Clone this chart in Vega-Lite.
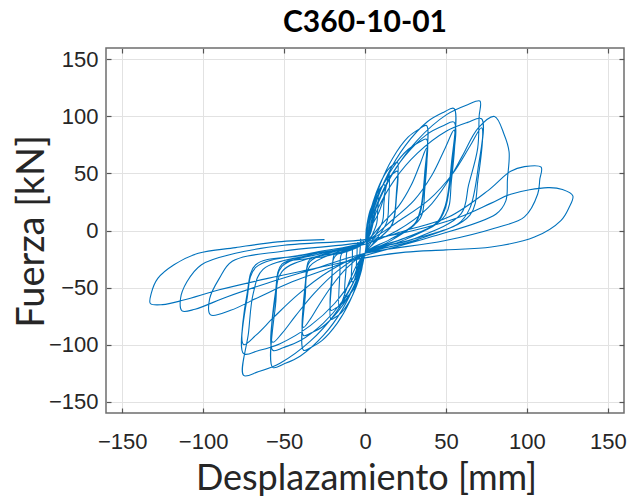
{
"$schema": "https://vega.github.io/schema/vega-lite/v6.json",
"autosize": {"type": "none"},
"width": 518, "height": 365,
"padding": {"left": 106, "top": 48, "right": 10, "bottom": 84},
"background": "white",
"title": {"text": "C360-10-01", "font": "Lato", "fontSize": 30, "fontWeight": "bold", "color": "#000000", "offset": 9, "anchor": "middle"},
"config": {"view": {"stroke": "#6e6e6e", "strokeWidth": 1.5}},
"data": {"values": [
{"x":-1.4,"y":-8.8},{"x":0,"y":-10},{"x":0.8,"y":1},{"x":2.1,"y":9.8},{"x":3,"y":12},{"x":2.9,"y":6.6},{"x":2.7,"y":2.4},{"x":1.2,"y":-8},{"x":0,"y":-20},{"x":-0.8,"y":-22.5},{"x":-2.1,"y":-24.5},{"x":-3,"y":-25},{"x":-2.9,"y":-13.8},{"x":-2.7,"y":-7.5},
{"x":-2.3,"y":-10.3},{"x":0,"y":-10},{"x":1.3,"y":6},{"x":3.5,"y":18.8},{"x":5,"y":22},{"x":4.9,"y":12.1},{"x":4.5,"y":4.4},{"x":2,"y":-8},{"x":0,"y":-20},{"x":-1.3,"y":-27.5},{"x":-3.5,"y":-33.5},{"x":-5,"y":-35},{"x":-4.9,"y":-19.3},{"x":-4.5,"y":-10.5},
{"x":-3.6,"y":-11.8},{"x":0,"y":-10},{"x":2,"y":10},{"x":5.6,"y":26},{"x":8,"y":30},{"x":7.8,"y":16.5},{"x":7.2,"y":6},{"x":3.2,"y":-8},{"x":0,"y":-20},{"x":-2,"y":-32.5},{"x":-5.6,"y":-42.5},{"x":-8,"y":-45},{"x":-7.8,"y":-24.8},{"x":-7.2,"y":-13.5},
{"x":-5.4,"y":-13.7},{"x":0,"y":-10},{"x":3,"y":15},{"x":8.4,"y":35},{"x":12,"y":40},{"x":11.6,"y":22},{"x":10.8,"y":8},{"x":4.8,"y":-8},{"x":0,"y":-20},{"x":-3,"y":-39},{"x":-8.4,"y":-54.2},{"x":-12,"y":-58},{"x":-11.6,"y":-31.9},{"x":-10.8,"y":-17.4},
{"x":-7.2,"y":-15.2},{"x":0,"y":-10},{"x":4.5,"y":5},{"x":8.3,"y":15},{"x":11.3,"y":27.5},{"x":13.5,"y":41},{"x":15,"y":50},{"x":14.6,"y":25},{"x":13.5,"y":7.5},{"x":6.8,"y":-8},{"x":0,"y":-20},{"x":-4.8,"y":-29.6},{"x":-8.8,"y":-41.6},{"x":-12,"y":-53.6},{"x":-14.4,"y":-63.2},{"x":-16,"y":-68},{"x":-15.5,"y":-37.4},{"x":-14.4,"y":-20.4},
{"x":-9.5,"y":-16.7},{"x":0,"y":-10},{"x":2,"y":7.5},{"x":5,"y":25},{"x":9,"y":40.4},{"x":14,"y":53},{"x":17.6,"y":57.9},{"x":20,"y":60},{"x":19.4,"y":33},{"x":18,"y":12},{"x":16,"y":3.6},{"x":8,"y":-8},{"x":0,"y":-20},{"x":-2.1,"y":-34.5},{"x":-5.3,"y":-49},{"x":-9.5,"y":-61.8},{"x":-14.7,"y":-72.2},{"x":-18.5,"y":-76.3},{"x":-21,"y":-78},{"x":-20.4,"y":-42.9},{"x":-18.9,"y":-23.4},
{"x":-9.5,"y":-15.5},{"x":0,"y":-10},{"x":2,"y":5.5},{"x":5,"y":21},{"x":9,"y":34.6},{"x":14,"y":45.8},{"x":17.6,"y":50.1},{"x":20,"y":52},{"x":19.4,"y":28.6},{"x":18,"y":10.4},{"x":16,"y":3.1},{"x":8,"y":-8},{"x":0,"y":-20},{"x":-2.1,"y":-32.5},{"x":-5.3,"y":-45},{"x":-9.5,"y":-56},{"x":-14.7,"y":-65},{"x":-18.5,"y":-68.5},{"x":-21,"y":-70},{"x":-20.4,"y":-38.5},{"x":-18.9,"y":-21},
{"x":-17.1,"y":-20.8},{"x":0,"y":-10},{"x":3.8,"y":15.5},{"x":9.5,"y":41},{"x":17.1,"y":63.4},{"x":26.6,"y":81.8},{"x":33.4,"y":88.9},{"x":38,"y":92},{"x":36.9,"y":50.6},{"x":34.2,"y":18.4},{"x":30.4,"y":5.5},{"x":15.2,"y":-8},{"x":0,"y":-20},{"x":-3.8,"y":-41.3},{"x":-9.5,"y":-62.5},{"x":-17.1,"y":-81.2},{"x":-26.6,"y":-96.5},{"x":-33.4,"y":-102.5},{"x":-38,"y":-105},{"x":-36.9,"y":-57.8},{"x":-34.2,"y":-31.5},
{"x":-17.1,"y":-18.8},{"x":0,"y":-10},{"x":3.8,"y":12.5},{"x":9.5,"y":35},{"x":17.1,"y":54.8},{"x":26.6,"y":71},{"x":33.4,"y":77.3},{"x":38,"y":80},{"x":36.9,"y":44},{"x":34.2,"y":16},{"x":30.4,"y":4.8},{"x":15.2,"y":-8},{"x":0,"y":-20},{"x":-3.8,"y":-38},{"x":-9.5,"y":-56},{"x":-17.1,"y":-71.8},{"x":-26.6,"y":-84.8},{"x":-33.4,"y":-89.8},{"x":-38,"y":-92},{"x":-36.9,"y":-50.6},{"x":-34.2,"y":-27.6},
{"x":-17.1,"y":-17.8},{"x":0,"y":-10},{"x":11.4,"y":7.2},{"x":20.9,"y":21.6},{"x":28.5,"y":39.6},{"x":34.2,"y":59},{"x":38,"y":72},{"x":36.9,"y":36},{"x":34.2,"y":10.8},{"x":17.1,"y":-8},{"x":0,"y":-20},{"x":-11.4,"y":-33},{"x":-20.9,"y":-49.3},{"x":-28.5,"y":-65.5},{"x":-34.2,"y":-78.5},{"x":-38,"y":-85},{"x":-36.9,"y":-46.8},{"x":-34.2,"y":-25.5},
{"x":-25.7,"y":-23},{"x":0,"y":-10},{"x":5.5,"y":19.3},{"x":13.8,"y":48.5},{"x":24.8,"y":74.2},{"x":38.5,"y":95.3},{"x":48.4,"y":103.5},{"x":55,"y":107},{"x":53.4,"y":58.9},{"x":49.5,"y":21.4},{"x":44,"y":6.4},{"x":22,"y":-8},{"x":0,"y":-20},{"x":-5.7,"y":-45},{"x":-14.3,"y":-70},{"x":-25.7,"y":-92},{"x":-39.9,"y":-110},{"x":-50.2,"y":-117},{"x":-57,"y":-120},{"x":-55.3,"y":-66},{"x":-51.3,"y":-36},
{"x":-25.7,"y":-20.8},{"x":0,"y":-10},{"x":5.5,"y":16.3},{"x":13.8,"y":42.5},{"x":24.8,"y":65.6},{"x":38.5,"y":84.5},{"x":48.4,"y":91.9},{"x":55,"y":95},{"x":53.4,"y":52.3},{"x":49.5,"y":19},{"x":44,"y":5.7},{"x":22,"y":-8},{"x":0,"y":-20},{"x":-5.7,"y":-41.3},{"x":-14.3,"y":-62.5},{"x":-25.7,"y":-81.2},{"x":-39.9,"y":-96.5},{"x":-50.2,"y":-102.5},{"x":-57,"y":-105},{"x":-55.3,"y":-57.8},{"x":-51.3,"y":-31.5},
{"x":-25.7,"y":-19.7},{"x":0,"y":-10},{"x":16.5,"y":8.8},{"x":30.3,"y":26.4},{"x":41.3,"y":48.4},{"x":49.5,"y":72.2},{"x":55,"y":88},{"x":53.4,"y":44},{"x":49.5,"y":13.2},{"x":24.8,"y":-8},{"x":0,"y":-20},{"x":-17.1,"y":-35.6},{"x":-31.4,"y":-55.1},{"x":-42.8,"y":-74.6},{"x":-51.3,"y":-90.2},{"x":-57,"y":-98},{"x":-55.3,"y":-53.9},{"x":-51.3,"y":-29.4},
{"x":-33.8,"y":-24.1},{"x":0,"y":-10},{"x":7.2,"y":21},{"x":18,"y":52},{"x":32.4,"y":79.3},{"x":50.4,"y":101.6},{"x":63.4,"y":110.3},{"x":71,"y":113.5},{"x":70.5,"y":100},{"x":69.6,"y":72},{"x":64,"y":40},{"x":59.3,"y":14.5},{"x":28.8,"y":-8},{"x":0,"y":-20},{"x":-7.5,"y":-46.8},{"x":-18.8,"y":-73.5},{"x":-33.8,"y":-97},{"x":-52.5,"y":-116.3},{"x":-66,"y":-123.8},{"x":-75,"y":-127},{"x":-72,"y":-90},{"x":-69,"y":-55},{"x":-63,"y":-34},
{"x":-33.8,"y":-21.2},{"x":0,"y":-10},{"x":7.2,"y":17},{"x":18,"y":44},{"x":32.4,"y":67.8},{"x":50.4,"y":87.2},{"x":63.4,"y":94.8},{"x":72,"y":98},{"x":69.8,"y":53.9},{"x":64.8,"y":19.6},{"x":57.6,"y":5.9},{"x":28.8,"y":-8},{"x":0,"y":-20},{"x":-7.5,"y":-42},{"x":-18.8,"y":-64},{"x":-33.8,"y":-83.4},{"x":-52.5,"y":-99.2},{"x":-66,"y":-105.4},{"x":-75,"y":-108},{"x":-72.8,"y":-59.4},{"x":-67.5,"y":-32.4},
{"x":-33.8,"y":-20},{"x":0,"y":-10},{"x":21.6,"y":9},{"x":39.6,"y":27},{"x":54,"y":49.5},{"x":64.8,"y":73.8},{"x":72,"y":90},{"x":69.8,"y":45},{"x":64.8,"y":13.5},{"x":32.4,"y":-8},{"x":0,"y":-20},{"x":-22.5,"y":-36},{"x":-41.3,"y":-56},{"x":-56.3,"y":-76},{"x":-67.5,"y":-92},{"x":-75,"y":-100},{"x":-72.8,"y":-55},{"x":-67.5,"y":-30},
{"x":-40,"y":-22},{"x":0,"y":-12},{"x":20,"y":0},{"x":39,"y":20},{"x":52,"y":45},{"x":60,"y":65},{"x":70,"y":90},{"x":80,"y":100},{"x":86,"y":84},{"x":89,"y":69},{"x":88,"y":45},{"x":87,"y":26},{"x":81,"y":14.5},{"x":40,"y":-6},{"x":0,"y":-22},{"x":-20,"y":-32},{"x":-45,"y":-45},{"x":-65,"y":-58},{"x":-83,"y":-70},{"x":-95.4,"y":-74},{"x":-96,"y":-60},{"x":-90,"y":-42},{"x":-82,"y":-27},
{"x":-50,"y":-18},{"x":0,"y":-10},{"x":25,"y":0},{"x":52,"y":12},{"x":76,"y":35},{"x":90,"y":52},{"x":98.5,"y":56},{"x":108.8,"y":55.5},{"x":108,"y":45},{"x":106.7,"y":32},{"x":98.5,"y":12},{"x":80,"y":2},{"x":49,"y":-9},{"x":0,"y":-20},{"x":-30,"y":-33},{"x":-60,"y":-46},{"x":-85,"y":-58},{"x":-105,"y":-69},{"x":-113,"y":-70.5},{"x":-114,"y":-60},{"x":-110,"y":-45},{"x":-101,"y":-30},{"x":-80,"y":-20},
{"x":-50,"y":-13},{"x":0,"y":-8},{"x":30,"y":0},{"x":59,"y":12},{"x":78,"y":24},{"x":90,"y":31.8},{"x":113,"y":37.6},{"x":122,"y":36},{"x":128.4,"y":30.4},{"x":126,"y":20},{"x":121,"y":8.7},{"x":104.7,"y":-5.8},{"x":78,"y":-14.5},{"x":50,"y":-17},{"x":25,"y":-19},{"x":0,"y":-24},{"x":-30,"y":-33},{"x":-60,"y":-42},{"x":-90,"y":-52},{"x":-112,"y":-61},{"x":-125,"y":-65},{"x":-132.6,"y":-64},{"x":-132,"y":-55},{"x":-128,"y":-42},{"x":-118,"y":-30},{"x":-103,"y":-20},{"x":-80,"y":-15},{"x":-54,"y":-10},{"x":-25,"y":-8}
]},
"layer": [
{
"mark": {"type": "line", "color": "#0072BD", "strokeWidth": 1.1, "interpolate": "catmull-rom"},
"encoding": {
"x": {"field": "x", "type": "quantitative", "scale": {"domain": [-160, 160], "nice": false, "zero": false},
 "axis": {"values": [-150, -100, -50, 0, 50, 100, 150], "title": "Desplazamiento [mm]", "titleFont": "Lato", "titleFontSize": 36, "titleFontWeight": "normal", "titleColor": "#262626", "titleBaseline": "alphabetic", "titleY": 76, "titleX": 260,
 "labelFont": "Liberation Sans", "labelFontSize": 22, "labelColor": "#262626", "labelPadding": 23, "tickSize": -5, "tickColor": "#555555", "tickWidth": 1.2, "domain": false, "gridColor": "#e2e2e2", "gridWidth": 1}},
"y": {"field": "y", "type": "quantitative", "scale": {"domain": [-160, 160], "nice": false, "zero": false},
 "axis": {"values": [-150, -100, -50, 0, 50, 100, 150], "title": "Fuerza [kN]", "titleFont": "Lato", "titleFontSize": 38, "titleFontWeight": "normal", "titleColor": "#262626", "titleBaseline": "alphabetic", "titleX": -63, "titleY": 183,
 "labelFont": "Liberation Sans", "labelFontSize": 22, "labelColor": "#262626", "labelPadding": 13, "tickSize": -5, "tickColor": "#555555", "tickWidth": 1.2, "domain": false, "gridColor": "#e2e2e2", "gridWidth": 1}},
"order": {"value": null}
}
},
{
"mark": {"type": "line", "opacity": 0},
"encoding": {
"x": {"field": "x", "type": "quantitative", "axis": {"orient": "top", "values": [-150, -100, -50, 0, 50, 100, 150], "labels": false, "title": null, "tickSize": -5, "tickColor": "#555555", "tickWidth": 1.2, "domain": false, "grid": false}},
"y": {"field": "y", "type": "quantitative", "axis": {"orient": "right", "values": [-150, -100, -50, 0, 50, 100, 150], "labels": false, "title": null, "tickSize": -5, "tickColor": "#555555", "tickWidth": 1.2, "domain": false, "grid": false}},
"order": {"value": null}
}
}
],
"resolve": {"axis": {"x": "independent", "y": "independent"}}
}
